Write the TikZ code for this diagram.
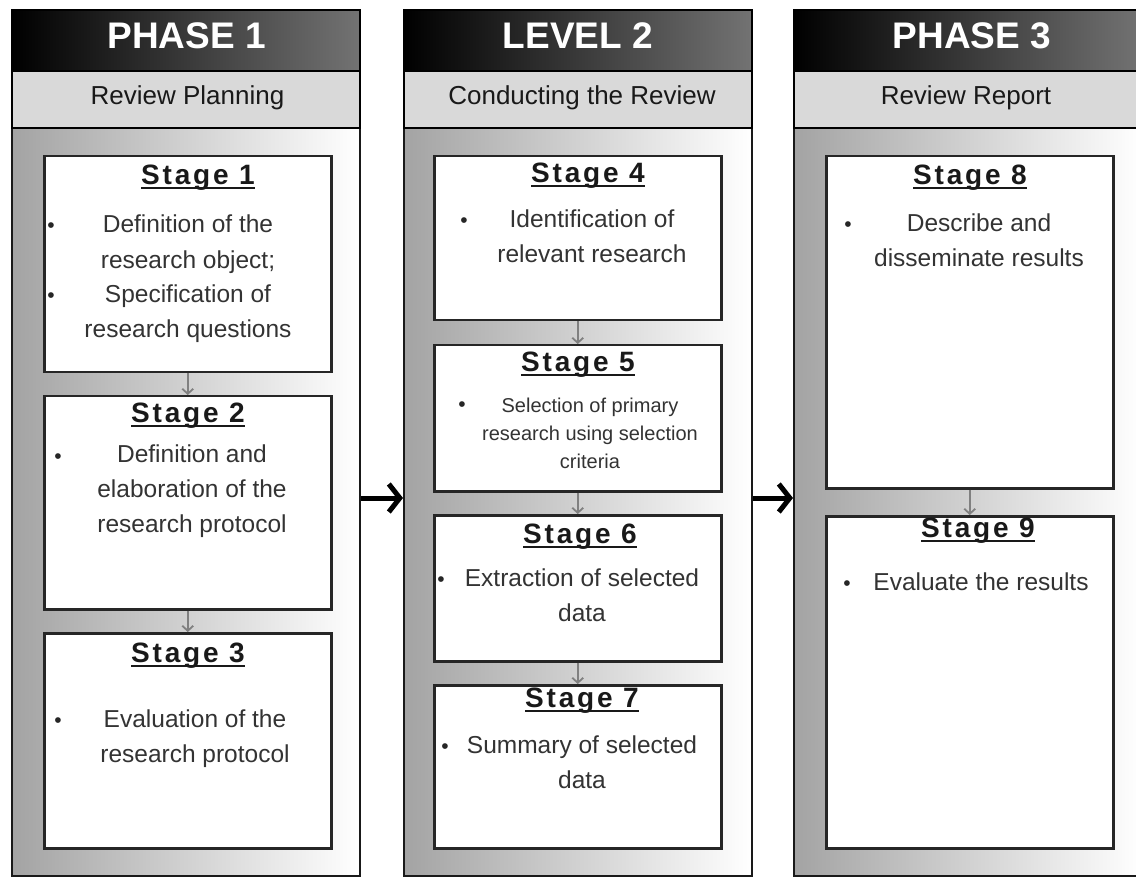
\documentclass[tikz,border=0pt]{standalone}
\usepackage{fontspec}
\setmainfont{Liberation Sans}
\newfontfamily\stagefont[LetterSpace=10]{Liberation Sans}
\usetikzlibrary{arrows.meta}

% underlined stage heading: a bar drawn below the baseline
\newcommand\ulstage[1]{{\setbox0\hbox{#1}\rlap{\rule[-4.5pt]{\wd0}{2pt}}\box0}}

\tikzset{
  headbox/.style={draw=black, line width=2pt, left color=black, right color=black!55,
    minimum width=348pt, minimum height=61pt, anchor=north west, inner sep=0pt},
  subbox/.style={draw=black, line width=2pt, fill=black!15,
    minimum width=348pt, minimum height=57pt, anchor=north west, inner sep=0pt},
  bodybox/.style={draw=black!90, line width=2pt, left color=black!36, right color=white,
    minimum width=348pt, minimum height=748pt, anchor=north west, inner sep=0pt},
  headtext/.style={text=white, font=\bfseries\fontsize{37}{40}\selectfont, anchor=base, inner sep=0pt},
  subtext/.style={text=black!90, font=\fontsize{26}{30}\selectfont, anchor=base, inner sep=0pt},
  stagebox/.style={draw=black!85, line width=2.5pt, fill=white,
    minimum width=287pt, anchor=north west, inner sep=0pt},
  stagetitle/.style={text=black!90, font=\stagefont\bfseries\fontsize{28}{30}\selectfont,
    anchor=base, inner sep=0pt},
  % multi-line texts: the base anchor sits on the last line
  body/.style={text=black!80, font=\fontsize{24.5}{35}\selectfont, align=center,
    anchor=base, inner sep=0pt},
  smallbody/.style={body, font=\fontsize{20}{28}\selectfont},
  dot/.style={text=black!85, font=\fontsize{21}{21}\selectfont, anchor=base, inner sep=0pt},
  flow/.style={draw=black!50, line width=1.8pt, -{Straight Barb[length=5pt,width=11pt]}},
  jump/.style={draw=black, line width=5pt, -{Straight Barb[length=11pt,width=28pt]}}
}

\begin{document}
\begin{tikzpicture}[x=1pt,y=-1pt]
\useasboundingbox (0,0) rectangle (1136,877);

% ---------- three columns ----------
\node[bodybox] (b1) at (11,127) {};
\node[headbox] (h1) at (11,9) {};
\node[subbox]  (u1) at (11,70) {};
\node[bodybox] (b2) at (403,127) {};
\node[headbox] (h2) at (403,9) {};
\node[subbox]  (u2) at (403,70) {};
\node[bodybox] (b3) at (793,127) {};
\node[headbox] (h3) at (793,9) {};
\node[subbox]  (u3) at (793,70) {};

\node[headtext] (ht1) at (186.5,49) {PHASE 1};
\node[headtext] (ht2) at (578,49) {LEVEL 2};
\node[headtext] (ht3) at (972,49) {PHASE 3};
\node[subtext] (st1) at (187.5,105) {Review Planning};
\node[subtext] (st2) at (582,105) {Conducting the Review};
\node[subtext] (st3) at (966,105) {Review Report};

% ---------- stage boxes ----------
\node[stagebox, minimum height=216pt] (s1) at (43,155) {};
\node[stagebox, minimum height=213pt] (s2) at (43,395) {};
\node[stagebox, minimum height=215pt] (s3) at (43,632) {};
\node[stagebox, minimum height=164pt] (s4) at (433,155) {};
\node[stagebox, minimum height=146pt] (s5) at (433,344) {};
\node[stagebox, minimum height=146pt] (s6) at (433,514) {};
\node[stagebox, minimum height=163pt] (s7) at (433,684) {};
\node[stagebox, minimum height=332pt] (s8) at (825,155) {};
\node[stagebox, minimum height=332pt] (s9) at (825,515) {};

% ---------- connectors ----------
\draw[flow] (s1.south) -- (s2.north);
\draw[flow] (s2.south) -- (s3.north);
\draw[flow] (s4.south) -- (s5.north);
\draw[flow] (s5.south) -- (s6.north);
\draw[flow] (s6.south) -- (s7.north);
\draw[flow] (s8.south) -- (s9.north);
\draw[jump] ([yshift=4pt]b1.east) -- ([yshift=4pt]b2.west);
\draw[jump] ([yshift=4pt]b2.east) -- ([yshift=4pt]b3.west);

% ---------- stage headings ----------
\node[stagetitle] (t1) at (198,185) {\ulstage{Stage 1}};
\node[stagetitle] (t2) at (188,422) {\ulstage{Stage 2}};
\node[stagetitle] (t3) at (188,662) {\ulstage{Stage 3}};
\node[stagetitle] (t4) at (588,183) {\ulstage{Stage 4}};
\node[stagetitle] (t5) at (578,372) {\ulstage{Stage 5}};
\node[stagetitle] (t6) at (580,543) {\ulstage{Stage 6}};
\node[stagetitle] (t7) at (582,707) {\ulstage{Stage 7}};
\node[stagetitle] (t8) at (970,185) {\ulstage{Stage 8}};
\node[stagetitle] (t9) at (978,537) {\ulstage{Stage 9}};

% ---------- stage contents ----------
\node[body] (d1) at (188,338) {Definition of the\\research object;\\Specification of\\research questions};
\node[body] (d2) at (192,532) {Definition and\\elaboration of the\\research protocol};
\node[body] (d3) at (195,762) {Evaluation of the\\research protocol};
\node[body] (d4) at (592,263) {Identification of\\relevant research};
\node[smallbody] (d5) at (590,468) {Selection of primary\\research using selection\\criteria};
\node[body] (d6) at (582,621) {Extraction of selected\\data};
\node[body] (d7) at (582,788) {Summary of selected\\data};
\node[body] (d8) at (979,267) {Describe and\\disseminate results};
\node[body] (d9) at (981,590) {Evaluate the results};

% ---------- bullets ----------
\node[dot] (p1a) at (51,233) {•};
\node[dot] (p1b) at (51,303) {•};
\node[dot] (p2) at (58,463) {•};
\node[dot] (p3) at (58,727) {•};
\node[dot] (p4) at (464,228) {•};
\node[dot] (p5) at (462,412) {•};
\node[dot] (p6) at (441,586) {•};
\node[dot] (p7) at (445,753) {•};
\node[dot] (p8) at (848,232) {•};
\node[dot] (p9) at (847,590) {•};
\end{tikzpicture}
\end{document}
